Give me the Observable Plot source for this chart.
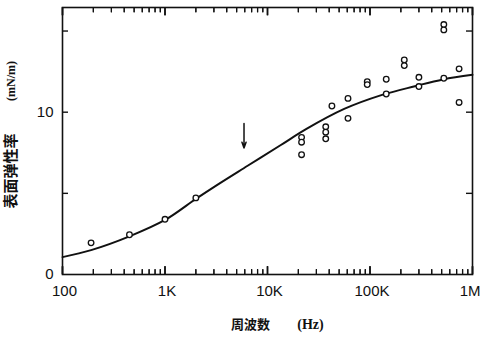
<!DOCTYPE html>
<html>
<head>
<meta charset="utf-8">
<script src="https://cdn.jsdelivr.net/npm/d3@7"></script>
<script src="https://cdn.jsdelivr.net/npm/@observablehq/plot@0.6"></script>
<style>
  html, body { margin: 0; padding: 0; background: #fff; }
  #chart svg { display: block; }
</style>
</head>
<body>
<div id="chart"></div>
<script>
// Measured points: frequency (Hz) and surface elasticity (mN/m)
const pointFreq  = [190, 450, 1000, 2000, 21500, 21500, 21500, 37000, 37000, 37000, 42500, 61000, 61000, 94000, 94000, 144000, 144000, 216000, 216000, 300000, 300000, 525000, 525000, 525000, 740000, 740000];
const pointValue = [1.95, 2.45, 3.4, 4.72, 8.45, 8.15, 7.38, 9.1, 8.77, 8.36, 10.38, 10.85, 9.62, 11.88, 11.7, 12.03, 11.12, 13.22, 12.87, 12.15, 11.58, 15.4, 15.07, 12.09, 12.67, 10.6];

// Theoretical curve
const curveFreq  = [100, 190, 450, 1000, 2000, 3100, 6400, 13500, 24000, 56000, 129000, 274000, 516000, 1000000];
const curveValue = [1.07, 1.5, 2.35, 3.36, 4.66, 5.45, 6.7, 7.98, 8.97, 10.2, 11.05, 11.6, 12.02, 12.3];

// Arrow marker
const arrowFreq = [5900];
const arrowFrom = [9.3];
const arrowTo   = [7.8];

// Axes
const yMax        = 16.45;
const xTicks      = [100, 1000, 10000, 100000, 1000000];
const xTickLabels = ["100", "1K", "10K", "100K", "1M"];
const yTicks      = [0, 10];
const yTickLabels = ["0", "10"];
const yMinorTicks = [5, 10, 15];
const xLabel = "周波数";
const xUnit  = "(Hz)";
const yLabel = "表面弹性率";
const yUnit  = "(mN/m)";

const xMinor = [];
for (let d = 100; d < 1e6; d *= 10) for (let k = 2; k <= 9; k++) xMinor.push(d * k);

const points = pointFreq.map((f, i) => ({f, v: pointValue[i]}));
const curve = curveFreq.map((f, i) => ({f, v: curveValue[i]}));
const arrows = arrowFreq.map((f, i) => ({f, y1: arrowFrom[i], y2: arrowTo[i]}));

const W = 481, H = 339, mL = 62, mR = 9, mT = 7, mB = 65;
const fw = W - mL - mR, fh = H - mT - mB;
const pxPerUnit = fh / yMax;               // converts tick lengths in pixels
const majorLen = 8 / pxPerUnit, minorLen = 5 / pxPerUnit;
const font = "'Liberation Sans', Arial, sans-serif";
const cjk = "'Noto Sans CJK SC', sans-serif";
const ink = "#111";

const tickLinks = (vals, len, top) => vals.map(f => ({f, a: top ? yMax : 0, b: top ? yMax - len : len}));

const chart = Plot.plot({
  width: W, height: H,
  marginLeft: mL, marginRight: mR, marginTop: mT, marginBottom: mB,
  style: {fontFamily: font, fontSize: "15px", color: ink, background: "#fff"},
  x: {type: "log", domain: [100, 1e6]},
  y: {domain: [0, yMax]},
  marks: [
    Plot.axisX({ticks: xTicks.slice(0, 4), tickFormat: d => xTickLabels[xTicks.indexOf(d)], tickSize: 0, tickPadding: 11, dx: 2, label: null, fontSize: 15}),
    Plot.text([xTicks[4]], {x: d => d, text: d => xTickLabels[xTicks.indexOf(d)], frameAnchor: "bottom", textAnchor: "end", lineAnchor: "top", dx: 8, dy: 11, fontSize: 15, fill: ink}),
    Plot.axisY({ticks: yTicks, tickFormat: d => yTickLabels[yTicks.indexOf(d)], tickSize: 0, tickPadding: 9, label: null, fontSize: 15}),
    Plot.line(curve, {x: "f", y: "v", curve: "catmull-rom", stroke: ink, strokeWidth: 2}),
    Plot.dot(points, {x: "f", y: "v", r: 2.8, stroke: ink, strokeWidth: 1.3, fill: "#fff"}),
    Plot.arrow(arrows, {x1: "f", x2: "f", y1: "y1", y2: "y2", stroke: ink, strokeWidth: 1.5, headLength: 6, headAngle: 40}),
    // axis titles
    Plot.text([xLabel], {text: d => d, frameAnchor: "bottom", textAnchor: "middle", dx: -17, dy: 54, fontSize: 13, fontWeight: "bold", fontFamily: cjk, fill: ink}),
    Plot.text([xUnit], {text: d => d, frameAnchor: "bottom", textAnchor: "middle", dx: 43, dy: 54, fontSize: 14, fontWeight: "bold", fontFamily: "'Liberation Serif', serif", fill: ink}),
    Plot.text([yLabel], {text: d => d, frameAnchor: "left", textAnchor: "middle", dx: -51, dy: 30, rotate: -90, fontSize: 15, fontWeight: "bold", fontFamily: cjk, fill: ink}),
    Plot.text([yUnit], {text: d => d, frameAnchor: "left", textAnchor: "middle", dx: -51, dy: -60, rotate: -90, fontSize: 12, fontWeight: "bold", fontFamily: "'Liberation Serif', serif", fill: ink}),
    // inward ticks, bottom & top
    Plot.link(tickLinks(xTicks, majorLen, false), {x1: "f", x2: "f", y1: "a", y2: "b", stroke: ink, strokeWidth: 1.5}),
    Plot.link(tickLinks(xMinor, minorLen, false), {x1: "f", x2: "f", y1: "a", y2: "b", stroke: ink, strokeWidth: 1.2}),
    Plot.link(tickLinks(xTicks, majorLen, true), {x1: "f", x2: "f", y1: "a", y2: "b", stroke: ink, strokeWidth: 1.5}),
    Plot.link(tickLinks(xMinor, minorLen, true), {x1: "f", x2: "f", y1: "a", y2: "b", stroke: ink, strokeWidth: 1.2}),
    Plot.ruleX(xTicks, {insetTop: fh - 8, stroke: ink, strokeWidth: 1.5}),
    Plot.ruleX(xMinor, {insetTop: fh - 5, stroke: ink, strokeWidth: 1.2}),
    Plot.ruleX(xTicks, {insetBottom: fh - 8, stroke: ink, strokeWidth: 1.5}),
    Plot.ruleX(xMinor, {insetBottom: fh - 5, stroke: ink, strokeWidth: 1.2}),
    // inward ticks, left & right
    Plot.ruleY(yMinorTicks, {insetRight: fw - 6, stroke: ink, strokeWidth: 1.4}),
    Plot.ruleY(yMinorTicks, {insetLeft: fw - 6, stroke: ink, strokeWidth: 1.4}),
    Plot.frame({stroke: ink, strokeWidth: 1.6})
  ]
});
document.getElementById("chart").appendChild(chart);
</script>
</body>
</html>
